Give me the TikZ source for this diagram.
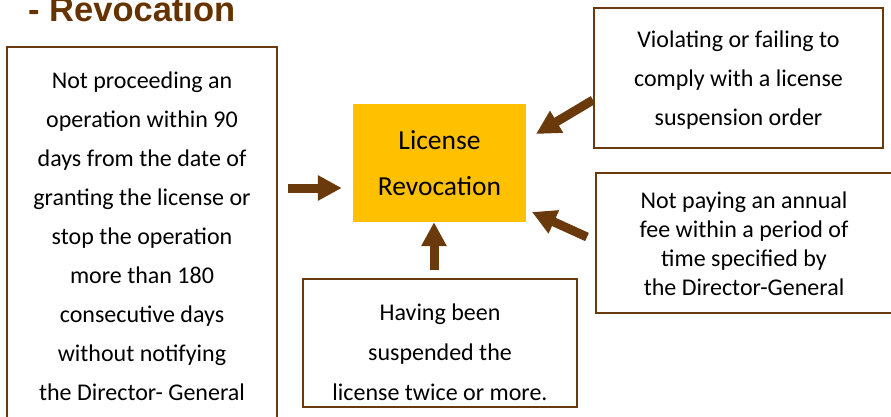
\documentclass[tikz,border=0pt]{standalone}
\usepackage{fontspec}
\setmainfont{Carlito}
\newfontfamily\titlefont{Liberation Sans}
\usetikzlibrary{arrows.meta}
\definecolor{brownline}{HTML}{6B3A0C}
\definecolor{titlebrown}{HTML}{663300}
\definecolor{revyellow}{HTML}{FFC000}
\begin{document}
\begin{tikzpicture}[x=1pt,y=-1pt,
  causebox/.style={draw=brownline, line width=2pt, fill=white, inner sep=0pt, align=center},
  boxtext/.style={align=center, inner sep=0pt, font=\fontsize{24}{39}\selectfont},
  arr/.style={draw=brownline, line width=9pt, -{Triangle[length=24pt,width=24pt]}}]
\useasboundingbox (0,0) rectangle (891,416);
\begin{scope}
\clip (0,0) rectangle (891,416);
% title
\node[anchor=base west, inner sep=0pt, text=titlebrown, font=\titlefont\bfseries\fontsize{34.5}{40}\selectfont] (title) at (28,21) {- Revocation};
% boxes
\draw[causebox] (7,47) rectangle (277,440);
\coordinate (leftc) at (142,236);
\node[boxtext] (left) at (leftc) {Not proceeding an\\operation within 90\\days from the date of\\granting the license or\\stop the operation\\more than 180\\consecutive days\\without notifying\\the Director- General};
\draw[causebox] (594,8) rectangle (883,148);
\node[boxtext] (viol) at (738.5,80) {Violating or failing to\\comply with a license\\suspension order};
\draw[causebox] (596,173) rectangle (892,313);
\node[boxtext, font=\fontsize{24}{29}\selectfont] (fee) at (744,244) {Not paying an annual\\fee within a period of\\time specified by\\the Director-General};
\draw[causebox] (303,279) rectangle (577,407);
\node[boxtext, font=\fontsize{24}{40}\selectfont] (twice) at (440,352) {Having been\\suspended the\\license twice or more.};
\node[fill=revyellow, minimum width=173pt, minimum height=118pt, inner sep=0pt, align=center, font=\fontsize{27.5}{46}\selectfont] (rev) at (439.5,163) {License\\Revocation};
% arrows
\coordinate (s1) at (288,188);
\draw[arr, shorten >=11pt] (s1) -- (rev.west |- s1);
\coordinate (s2) at (434,270);
\draw[arr] (s2) -- (rev.south -| s2);
\coordinate (s3) at (593,100);
\coordinate (e3) at (536,134);
\draw[arr] (s3) -- (e3);
\coordinate (s4) at (587,237);
\coordinate (e4) at (532,212);
\draw[arr] (s4) -- (e4);
\end{scope}
\end{tikzpicture}
\end{document}
